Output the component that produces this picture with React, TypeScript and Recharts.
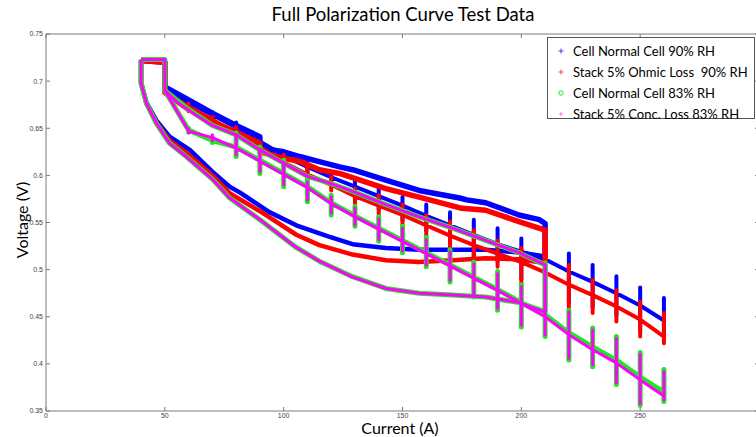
import { LineChart, Line, XAxis, YAxis } from 'recharts';

// current steps used by the step test (A)
const stepCurrents = [50, 60, 70, 80, 90, 100, 110, 120, 130, 140, 150, 160, 170, 180, 190, 200, 210, 220, 230, 240, 250, 260];

const xTicks = [0, 50, 100, 150, 200, 250];
const yTicks = [0.35, 0.4, 0.45, 0.5, 0.55, 0.6, 0.65, 0.7, 0.75];

// --- Cell Normal Cell 90% RH (blue) ---
const blueFwdI = [40, 40, 42.3, 46.5, 52, 60.5, 70, 77.3, 81.5, 94, 105.3, 119, 129, 143, 157, 171, 185, 200, 210];
const blueFwdV = [0.722, 0.698, 0.677, 0.658, 0.641, 0.627, 0.604, 0.588, 0.582, 0.561, 0.547, 0.535, 0.527, 0.523, 0.521, 0.521, 0.521, 0.518, 0.514];
const blueRevI = [210, 210, 207.6, 199, 185, 177, 174, 157, 143, 129, 123.5, 115, 106.7, 100, 90, 90, 80, 70, 60, 50, 50, 40];
const blueRevV = [0.514, 0.549, 0.553, 0.558, 0.571, 0.574, 0.576, 0.584, 0.595, 0.606, 0.609, 0.6145, 0.62, 0.625, 0.629, 0.641, 0.653, 0.666, 0.68, 0.694, 0.72, 0.722];
const blueBand = [0.69, 0.677, 0.664, 0.651, 0.636, 0.621, 0.609, 0.598, 0.588, 0.578, 0.568, 0.557, 0.547, 0.537, 0.527, 0.519, 0.511, 0.498, 0.487, 0.475, 0.462, 0.446];
const blueTop = [0.69, 0.68, 0.667, 0.656, 0.641, 0.625, 0.613, 0.603, 0.595, 0.588, 0.577, 0.569, 0.561, 0.553, 0.544, 0.533, 0.549, 0.517, 0.505, 0.493, 0.481, 0.47];
const blueBottom = [0.69, 0.672, 0.659, 0.646, 0.63, 0.612, 0.599, 0.59, 0.576, 0.564, 0.552, 0.541, 0.529, 0.509, 0.509, 0.49, 0.496, 0.465, 0.46, 0.451, 0.435, 0.428];

// --- Stack 5% Ohmic Loss 90% RH (red) ---
const redFwdI = [40, 40, 42.3, 46.5, 52, 60, 70, 77.3, 90, 105.3, 115, 129, 143, 157, 171, 185, 199, 210];
const redFwdV = [0.722, 0.698, 0.676, 0.656, 0.637, 0.622, 0.6, 0.581, 0.562, 0.537, 0.526, 0.516, 0.51, 0.508, 0.51, 0.512, 0.511, 0.507];
const redRevI = [210, 210, 199, 185, 175, 157, 143, 123.5, 115, 106.7, 100, 90, 90, 80, 70, 60, 50, 50, 40];
const redRevV = [0.507, 0.542, 0.551, 0.563, 0.565, 0.577, 0.586, 0.602, 0.606, 0.615, 0.618, 0.625, 0.634, 0.646, 0.657, 0.67, 0.688, 0.72, 0.722];
const redBand = [0.688, 0.673, 0.659, 0.645, 0.63, 0.614, 0.601, 0.59, 0.578, 0.568, 0.558, 0.547, 0.536, 0.526, 0.517, 0.508, 0.497, 0.484, 0.473, 0.461, 0.447, 0.429];
const redTop = [0.688, 0.676, 0.662, 0.651, 0.633, 0.622, 0.609, 0.598, 0.586, 0.579, 0.569, 0.558, 0.551, 0.542, 0.531, 0.523, 0.54, 0.505, 0.489, 0.478, 0.466, 0.454];
const redBottom = [0.688, 0.668, 0.654, 0.64, 0.624, 0.606, 0.593, 0.584, 0.57, 0.558, 0.546, 0.535, 0.523, 0.503, 0.503, 0.484, 0.49, 0.459, 0.454, 0.445, 0.429, 0.422];

// --- Cell Normal Cell 83% RH (green) ---
const greenFwdI = [40, 40, 42.3, 46.5, 52, 59, 70, 77.3, 90, 105, 115, 129, 143, 157, 171, 185, 199, 210];
const greenFwdV = [0.723, 0.698, 0.676, 0.655, 0.634, 0.62, 0.596, 0.576, 0.553, 0.524, 0.509, 0.4925, 0.48, 0.475, 0.473, 0.471, 0.465, 0.4555];
const greenRevI = [210, 210, 199, 185, 171, 157, 143, 129, 119, 110, 100, 90, 80, 70, 60, 50, 50, 40];
const greenRevV = [0.4555, 0.505, 0.518, 0.531, 0.544, 0.556, 0.569, 0.583, 0.592, 0.599, 0.613, 0.627, 0.643, 0.653, 0.67, 0.69, 0.723, 0.723];
const greenBand = [0.69, 0.648, 0.637, 0.63, 0.616, 0.602, 0.588, 0.571, 0.557, 0.544, 0.531, 0.518, 0.505, 0.492, 0.479, 0.465, 0.452, 0.433, 0.418, 0.404, 0.386, 0.37];
const greenTop = [0.69, 0.65, 0.64, 0.645, 0.63, 0.616, 0.595, 0.579, 0.567, 0.556, 0.546, 0.534, 0.521, 0.508, 0.498, 0.484, 0.507, 0.457, 0.438, 0.429, 0.412, 0.394];
const greenBottom = [0.69, 0.646, 0.635, 0.62, 0.602, 0.588, 0.572, 0.558, 0.546, 0.53, 0.518, 0.503, 0.487, 0.471, 0.457, 0.439, 0.429, 0.404, 0.397, 0.378, 0.356, 0.36];

// --- Stack 5% Conc. Loss 83% RH (magenta) ---
const magFwdI = [40, 40, 42.3, 46.5, 52, 59, 70, 77.3, 90, 105, 115, 129, 143, 157, 171, 185, 199, 210];
const magFwdV = [0.723, 0.698, 0.676, 0.655, 0.634, 0.62, 0.596, 0.576, 0.553, 0.524, 0.509, 0.492, 0.48, 0.475, 0.473, 0.471, 0.465, 0.455];
const magRevI = [210, 210, 199, 185, 171, 157, 143, 129, 119, 110, 100, 90, 80, 70, 63, 55, 50, 50, 40];
const magRevV = [0.455, 0.505, 0.518, 0.531, 0.544, 0.556, 0.569, 0.583, 0.592, 0.599, 0.613, 0.627, 0.643, 0.653, 0.664, 0.678, 0.69, 0.723, 0.723];
const magBand = [0.69, 0.647, 0.64, 0.629, 0.615, 0.601, 0.587, 0.57, 0.556, 0.543, 0.53, 0.517, 0.504, 0.491, 0.478, 0.464, 0.45, 0.431, 0.415, 0.401, 0.383, 0.366];
const magTop = [0.69, 0.649, 0.643, 0.643, 0.628, 0.614, 0.593, 0.577, 0.565, 0.554, 0.544, 0.532, 0.519, 0.506, 0.496, 0.482, 0.505, 0.455, 0.436, 0.427, 0.41, 0.392];
const magBottom = [0.69, 0.645, 0.637, 0.622, 0.604, 0.59, 0.574, 0.56, 0.548, 0.532, 0.52, 0.505, 0.489, 0.473, 0.459, 0.441, 0.431, 0.406, 0.399, 0.38, 0.358, 0.362];

type Pt = { x: number; v: number };

const zip = (xs: number[], vs: number[]): Pt[] => xs.map((x, i) => ({ x, v: vs[i] }));

// step test: at every current the voltage spikes up and down, then settles on the band
const steps = (band: number[], top: number[], bottom: number[]): Pt[] => {
  const pts: Pt[] = [];
  stepCurrents.forEach((x, i) => {
    pts.push({ x, v: band[i] });
    if (i > 0) {
      pts.push({ x, v: top[i] });
      pts.push({ x, v: bottom[i] });
      pts.push({ x, v: band[i] });
    }
  });
  return pts;
};

const series = [
  { name: 'Cell Normal Cell 90% RH', color: '#0000ff', fw: 4.5, rw: 5.5, sw: 4,
    fwd: zip(blueFwdI, blueFwdV), rev: zip(blueRevI, blueRevV), steps: steps(blueBand, blueTop, blueBottom) },
  { name: 'Stack 5% Ohmic Loss  90% RH', color: '#ff0000', fw: 4.5, rw: 5.5, sw: 4,
    fwd: zip(redFwdI, redFwdV), rev: zip(redRevI, redRevV), steps: steps(redBand, redTop, redBottom) },
  { name: 'Cell Normal Cell 83% RH', color: '#22e622', fw: 5, rw: 5, sw: 5,
    fwd: zip(greenFwdI, greenFwdV), rev: zip(greenRevI, greenRevV), steps: steps(greenBand, greenTop, greenBottom) },
  { name: 'Stack 5% Conc. Loss 83% RH', color: '#ff00ff', fw: 3, rw: 3, sw: 3,
    fwd: zip(magFwdI, magFwdV), rev: zip(magRevI, magRevV), steps: steps(magBand, magTop, magBottom) },
];

const tickFont = { fontSize: 7, fill: '#444', fontFamily: 'Liberation Sans, Arial, sans-serif' };
const axisGrey = '#7a7a7a';

const LegendMarker = ({ idx, color }: { idx: number; color: string }) => (
  <svg width={10} height={10} style={{ marginRight: 7 }}>
    {idx < 2 && (
      <g stroke={color} strokeWidth={1} opacity={0.75}>
        <line x1={5} y1={2.5} x2={5} y2={7.5} />
        <line x1={2.5} y1={5} x2={7.5} y2={5} />
      </g>
    )}
    {idx === 2 && <circle cx={5} cy={5} r={2.2} fill="none" stroke={color} strokeWidth={1} />}
    {idx === 3 && (
      <g stroke={color} strokeWidth={1} opacity={0.55}>
        <line x1={5} y1={3} x2={5} y2={7} />
        <line x1={3} y1={5} x2={7} y2={5} />
      </g>
    )}
  </svg>
);

const lineProps = {
  xAxisId: 'b',
  yAxisId: 'l',
  dataKey: 'v',
  type: 'linear' as const,
  strokeLinejoin: 'round' as const,
  dot: false,
  activeDot: false,
  isAnimationActive: false,
};

export default function App() {
  return (
    <div style={{ position: 'absolute', left: 0, top: 0, width: 756, height: 437, overflow: 'hidden', background: '#fff' }}>
      <LineChart width={770} height={437} margin={{ top: 0, right: 0, bottom: 0, left: 0 }}>
        <XAxis xAxisId="b" type="number" dataKey="x" domain={[0, 300]} ticks={xTicks} orientation="bottom"
          height={26} tickSize={-4} tickMargin={6} stroke={axisGrey} tick={tickFont} allowDataOverflow />
        <XAxis xAxisId="t" type="number" dataKey="x" domain={[0, 300]} ticks={xTicks} orientation="top"
          height={34} tickSize={-4} stroke={axisGrey} tickFormatter={() => ''} allowDataOverflow />
        <YAxis yAxisId="l" type="number" domain={[0.35, 0.75]} ticks={yTicks} width={46}
          tickSize={-4} tickMargin={7} stroke={axisGrey} tick={tickFont} tickFormatter={(v: number) => String(v)} allowDataOverflow />
        <YAxis yAxisId="r" type="number" orientation="right" domain={[0.35, 0.75]} ticks={yTicks} width={11}
          tickSize={-4} stroke={axisGrey} tickFormatter={() => ''} allowDataOverflow />
        {series.flatMap((s, i) => [
          <Line key={`fw-${i}`} {...lineProps} data={s.fwd} stroke={s.color} strokeWidth={s.fw} />,
          <Line key={`rv-${i}`} {...lineProps} data={s.rev} stroke={s.color} strokeWidth={s.rw} />,
          <Line key={`st-${i}`} {...lineProps} data={s.steps} stroke={s.color} strokeWidth={s.sw} />,
        ])}
      </LineChart>

      <div style={{ position: 'absolute', left: 0, width: 806, top: 3, textAlign: 'center', fontFamily: 'Lato, sans-serif', fontSize: 18.5, color: '#000' }}>
        Full Polarization Curve Test Data
      </div>
      <div style={{ position: 'absolute', left: 0, width: 800, top: 418, textAlign: 'center', fontFamily: 'Lato, sans-serif', fontSize: 16, color: '#000' }}>
        Current (A)
      </div>
      <div style={{ position: 'absolute', left: 21, top: 220, transform: 'translate(-50%, -50%) rotate(-90deg)', whiteSpace: 'nowrap', fontFamily: 'Lato, sans-serif', fontSize: 16, color: '#000' }}>
        Voltage (V)
      </div>

      <div style={{ position: 'absolute', left: 547, top: 37, width: 208, height: 82, border: '1px solid #555', background: '#fff', fontFamily: 'Lato, sans-serif', fontSize: 13, color: '#000', padding: '3px 0 0 8px', boxSizing: 'border-box' }}>
        {series.map((s, i) => (
          <div key={s.name} style={{ display: 'flex', alignItems: 'center', height: 20.8, whiteSpace: 'pre' }}>
            <LegendMarker idx={i} color={s.color} />
            {s.name}
          </div>
        ))}
      </div>
    </div>
  );
}
